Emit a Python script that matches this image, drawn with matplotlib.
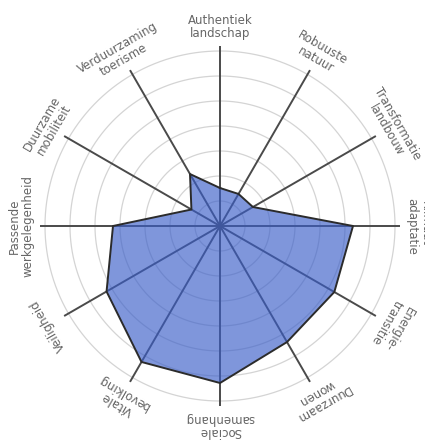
import numpy as np
import matplotlib.pyplot as plt

labels = ["Authentiek\nlandschap", "Robuuste\nnatuur", "Transformatie\nlandbouw",
          "Klimaat-\nadaptatie", "Energie-\ntransitie", "Duurzaam\nwonen",
          "Sociale\nsamenhang", "Vitale\nbevolking", "Veiligheid",
          "Passende\nwerkgelegenheid", "Duurzame\nmobiliteit", "Verduurzaming\ntoerisme"]
values = [1.52, 1.48, 1.52, 5.32, 5.28, 5.36, 6.28, 6.28, 5.24, 4.28, 1.32, 2.4]
rings = [1, 2, 3, 4, 5, 6, 7]
rmax = 7.2

n = len(labels)
theta = np.arange(n) * 2 * np.pi / n

fig = plt.figure(figsize=(4.25, 4.4), dpi=100)
ax = fig.add_axes([40 / 425, 34 / 440, 360 / 425, 360 / 440], projection="polar")
ax.set_theta_offset(np.pi / 2)
ax.set_theta_direction(-1)
ax.set_ylim(0, rmax)
ax.spines["polar"].set_visible(False)
ax.set_xticks([])
ax.set_yticks([])
ax.grid(False)

circ = np.linspace(0, 2 * np.pi, 361)
for r in rings:
    ax.plot(circ, np.full_like(circ, r), color="#d4d4d4", lw=0.9, zorder=1)

for t in theta:
    ax.plot([t, t], [0, rmax], color="#4a4a4a", lw=1.4, zorder=2)

tt = np.append(theta, theta[0])
vv = np.append(values, values[0])
ax.fill(tt, vv, color="#3a5ec9", alpha=0.65, zorder=3, lw=0)
ax.plot(tt, vv, color="#2b2b2b", lw=1.4, zorder=4)

for t, lab in zip(theta, labels):
    rot = -np.degrees(t)
    ax.text(t, 7.95, lab, rotation=rot, rotation_mode="anchor",
            ha="center", va="center", fontsize=8.5, color="#666666",
            linespacing=1.0, clip_on=False)

fig.savefig("out.png", dpi=100)
